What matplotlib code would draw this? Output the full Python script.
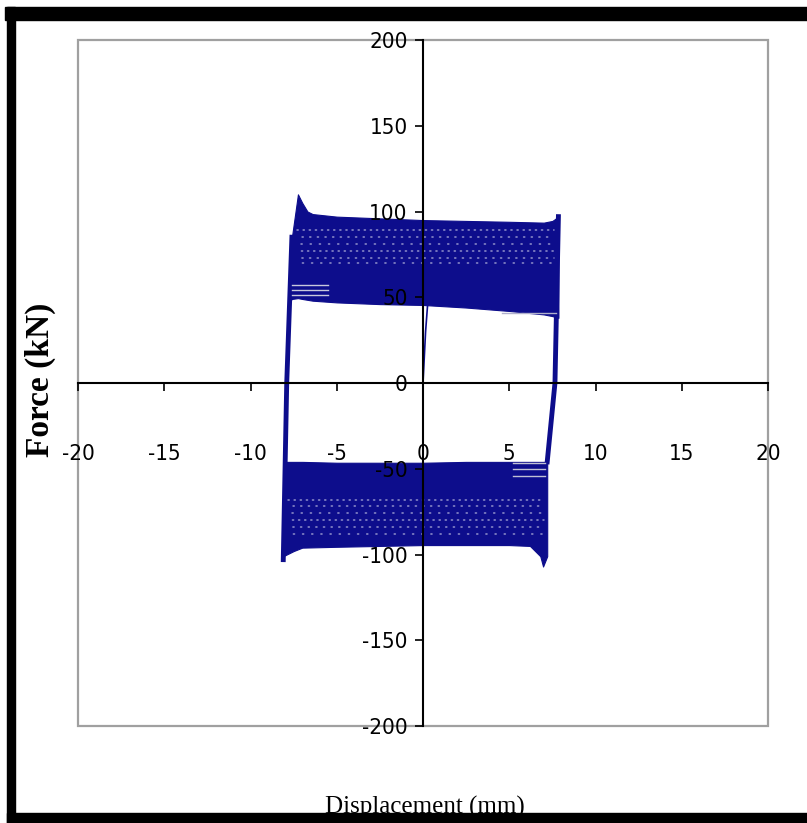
# ----------------------------------------------------------
# plot.py
# Lazo de histéresis Fuerza-Desplazamiento (estilo Excel)
# ----------------------------------------------------------
import matplotlib
matplotlib.use("Agg")
import matplotlib.pyplot as plt
from matplotlib import font_manager
from matplotlib.patches import Rectangle

plt.rcParams['axes.unicode_minus'] = False

# ------------------------------
# Datos
# ------------------------------
x_ticks = [-20, -15, -10, -5, 0, 5, 10, 15, 20]
y_ticks = [200, 150, 100, 50, 0, -50, -100, -150, -200]

# banda superior (ramas de fuerza positiva)
top_x  = [-7.7, -7.6, -7.25, -7.0, -6.7, -6.4, -5.0, -2.5, 0.0, 2.5, 5.0, 7.0, 7.5, 7.85]
top_hi = [48, 85, 110, 105, 100, 98.5, 97, 96, 95, 94.5, 94, 93.5, 94.5, 97]
top_lo = [48, 49, 49.5, 49, 48.5, 48, 47, 46, 45.5, 44, 42, 40, 39, 38]

# banda inferior (ramas de fuerza negativa)
bot_x  = [-8.1, -7.5, -7.0, -5.0, -2.5, 0.0, 2.5, 5.0, 6.2, 6.8, 6.96, 7.2]
bot_hi = [-46, -46, -46, -46.5, -46.5, -46.5, -46, -46, -46, -46, -46, -46]
bot_lo = [-101, -98, -96, -95.5, -95, -94.5, -94.5, -94.5, -95, -101, -107, -101]

# ramas de descarga/recarga (inversión de carga)
rev_left_x  = [-8.1, -7.9, -7.6]
rev_left_f  = [-103, 0, 85]
rev_right_x = [7.85, 7.65, 7.2]
rev_right_f = [97, 0, -46]

# carga inicial
init_x = [0.0, 0.15, 0.3]
init_f = [0, 30, 50]

# huecos entre ciclos (zonas claras dentro de las bandas)
gap_top_levels = [89, 85, 81, 77, 73, 70]
gap_top_x = [-7.3, 7.6]
gap_bot_levels = [-68, -72, -76, -80, -84, -88]
gap_bot_x = [-7.8, 7.0]

light_top_levels = [57, 54, 51.5]
light_top_x = [-7.6, -5.5]
light_top_r_levels = [41]
light_top_r_x = [4.6, 7.7]
light_bot_levels = [-46.5, -50, -54]
light_bot_x = [5.2, 7.1]

NAVY = '#0d0d8c'

# ------------------------------
# Fuentes (estrecha si existe)
# ------------------------------
tick_fp = None
for f in font_manager.fontManager.ttflist:
    if f.name in ('Liberation Sans Narrow', 'DejaVu Sans') and f.style == 'normal' and \
            str(f.stretch) in ('condensed', 'semi-condensed') and f.weight in (400, 'normal'):
        tick_fp = font_manager.FontProperties(fname=f.fname, size=16)
        break
if tick_fp is None:
    tick_fp = font_manager.FontProperties(family='Liberation Sans', size=15)

# ------------------------------
# Figura
# ------------------------------
fig = plt.figure(figsize=(8.07, 8.23), dpi=100)
ax = fig.add_axes([78/807, 1-726/823, (768-78)/807, (726-40)/823])

ax.fill_between(top_x, top_lo, top_hi, color=NAVY, lw=0.8, zorder=1)
ax.fill_between(bot_x, bot_lo, bot_hi, color=NAVY, lw=0.8, zorder=1)
ax.plot(rev_left_x, rev_left_f, color=NAVY, lw=3.5, zorder=1.5)
ax.plot(rev_right_x, rev_right_f, color=NAVY, lw=3.5, zorder=1.5)
ax.plot(init_x, init_f, color=NAVY, lw=1.2, zorder=1.5)

for i, lev in enumerate(gap_top_levels):
    ax.plot(gap_top_x, [lev, lev], color='white', lw=1.1, alpha=0.55,
            linestyle=(i * 1.7, (0.8, 3.2 + i % 3)), dash_capstyle='round', zorder=1.6)
for i, lev in enumerate(gap_bot_levels):
    ax.plot(gap_bot_x, [lev, lev], color='white', lw=1.1, alpha=0.55,
            linestyle=(i * 1.7, (0.8, 3.2 + i % 3)), dash_capstyle='round', zorder=1.6)
for lev in light_top_levels:
    ax.plot(light_top_x, [lev, lev], color='#c8c8dc', lw=1.0, zorder=1.6)
for lev in light_top_r_levels:
    ax.plot(light_top_r_x, [lev, lev], color='#b0b0cc', lw=1.0, zorder=1.6)
for lev in light_bot_levels:
    ax.plot(light_bot_x, [lev, lev], color='#c0c0d4', lw=1.0, zorder=1.6)

ax.set_xlim(-20, 20)
ax.set_ylim(-200, 200)

# ejes cruzando en el origen
for s in ['top', 'right']:
    ax.spines[s].set_visible(False)
ax.spines['left'].set_position(('data', 0))
ax.spines['bottom'].set_position(('data', 0))
ax.spines['left'].set_linewidth(1.5)
ax.spines['bottom'].set_linewidth(1.5)

# marco gris del área de trazado
ax.add_patch(Rectangle((0, 0), 1, 1, transform=ax.transAxes, fill=False,
                       edgecolor='#a0a0a0', lw=1.6, clip_on=False, zorder=0.5))

ax.set_xticks(x_ticks)
ax.set_xticklabels([str(v) for v in x_ticks])
ax.set_yticks(y_ticks)
ax.set_yticklabels([str(v) for v in y_ticks])
ax.tick_params(axis='x', direction='out', length=6, width=1.2, pad=38)
ax.tick_params(axis='y', direction='out', length=6, width=1.2, pad=5)
for lab in ax.get_xticklabels() + ax.get_yticklabels():
    lab.set_fontproperties(tick_fp)

fig.text(40/807, 1-380/823, 'Force (kN)', rotation=90, ha='center', va='center',
         fontsize=24, family='Liberation Serif', fontweight='bold')
fig.text(425/807, 1-807/823, 'Displacement (mm)', ha='center', va='center',
         fontsize=18, family='Liberation Serif')

# borde negro de la captura
fig.patches.append(Rectangle((5/807, 1-20/823), 1, 13/823, transform=fig.transFigure,
                             color='black', zorder=10))
fig.patches.append(Rectangle((7/807, 0), 8/807, 1-7/823, transform=fig.transFigure,
                             color='black', zorder=10))
fig.patches.append(Rectangle((7/807, 0), 1, 10/823, transform=fig.transFigure,
                             color='black', zorder=10))

fig.savefig('out.png', dpi=100)
